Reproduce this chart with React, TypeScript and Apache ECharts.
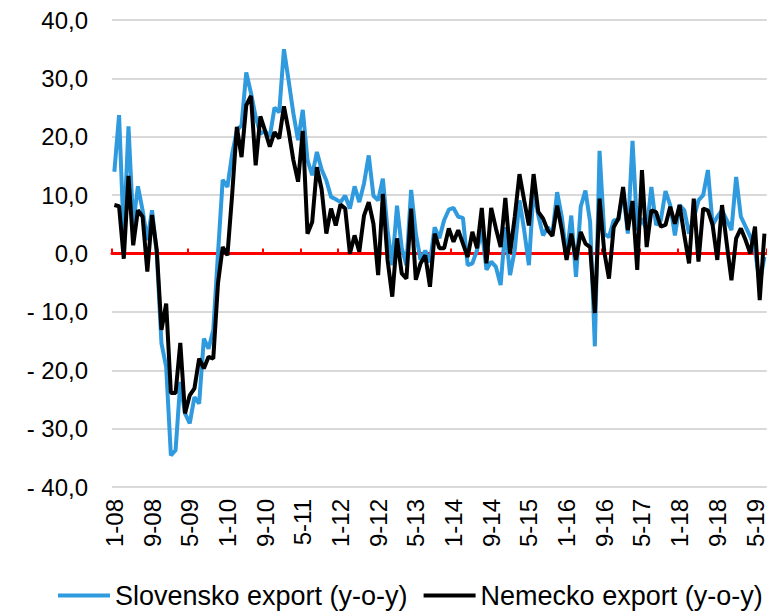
import React, { useEffect, useRef } from "react";
import * as echarts from "echarts";

const categories: string[] = [
  "1-08","2-08","3-08","4-08","5-08","6-08","7-08","8-08","9-08","10-08","11-08","12-08",
  "1-09","2-09","3-09","4-09","5-09","6-09","7-09","8-09","9-09","10-09","11-09","12-09",
  "1-10","2-10","3-10","4-10","5-10","6-10","7-10","8-10","9-10","10-10","11-10","12-10",
  "1-11","2-11","3-11","4-11","5-11","6-11","7-11","8-11","9-11","10-11","11-11","12-11",
  "1-12","2-12","3-12","4-12","5-12","6-12","7-12","8-12","9-12","10-12","11-12","12-12",
  "1-13","2-13","3-13","4-13","5-13","6-13","7-13","8-13","9-13","10-13","11-13","12-13",
  "1-14","2-14","3-14","4-14","5-14","6-14","7-14","8-14","9-14","10-14","11-14","12-14",
  "1-15","2-15","3-15","4-15","5-15","6-15","7-15","8-15","9-15","10-15","11-15","12-15",
  "1-16","2-16","3-16","4-16","5-16","6-16","7-16","8-16","9-16","10-16","11-16","12-16",
  "1-17","2-17","3-17","4-17","5-17","6-17","7-17","8-17","9-17","10-17","11-17","12-17",
  "1-18","2-18","3-18","4-18","5-18","6-18","7-18","8-18","9-18","10-18","11-18","12-18",
  "1-19","2-19","3-19","4-19","5-19","6-19","7-19",
];

const slovenskoExport: number[] = [
  14, 23.7, 3, 21.8, 5, 11.5, 7.4, 2.3, 7.4, 0, -15.4, -19.4,
  -34.6, -33.7, -22, -27.4, -29.1, -24.6, -25.7, -14.6, -16.3, -13.1, 0, 12.6,
  11.4, 17, 21, 22, 31, 27.5, 23.4, 20.5, 21, 20, 25, 24.2,
  35, 29.6, 24, 19.4, 24.6, 16, 13.4, 17.4, 14.4, 12.5, 9.7, 9.3,
  8.8, 9.9, 7.7, 11.5, 8.8, 12, 16.8, 9.9, 9.1, 12.8, 4, -2,
  8.2, 1, -2, 10.9, 3.4, -1.1, 0.5, -1.5, 4.5, 2.6, 5.7, 7.5,
  7.8, 6.3, 6.1, -2, -1.7, 0.6, 4, -2.8, -1.4, -2.3, -5.4, 4.5,
  -3.7, 0.6, 9.1, 4, -2, 11, 6.5, 3.1, 4.5, 3.4, 10.5, 6.2,
  -0.6, 6.5, -4, 8, 10.8, 5.4, -15.9, 17.6, 3.4, 2.8, 5.7, 5.7,
  10.8, 3.4, 19.3, 4, 6, 4, 11.4, 4.9, 5.7, 10.7, 8.3, 3.1,
  8.3, 7.4, 3.4, 6, 9.1, 10, 14.3, 4.9, 6.3, 7.4, 5.7, 4,
  13.1, 6.3, 4.6, 2.9, 0.6, -5.1, -0.6,
];

const nemeckoExport: number[] = [
  8.3, 8.1, -0.9, 13.3, 1.4, 7.4, 6.3, -3.1, 6.6, 0.6, -13.1, -8.6,
  -23.9, -23.9, -15.3, -27.4, -24.3, -23.1, -18, -19.7, -17.7, -18, -5.1, 1.1,
  -0.3, 10, 21.7, 16.5, 25.4, 27, 15.1, 23.5, 21, 18.3, 20.8, 19.7,
  25.2, 21, 16, 12.3, 21, 3.4, 5.4, 14.8, 11, 3.4, 7.7, 4.8,
  8.4, 7.7, 0, 3.1, 0.3, 6.5, 8.8, 5.1, -3.7, 10.2, -1.1, -7.4,
  2.6, -3.4, -4.3, 7.7, -4.5, -1.7, -0.3, -5.7, 3.4, 0.9, 0.9, 4.3,
  2, 4, 1.7, -0.6, 3.7, 0.9, 7.8, -1.7, 7.8, 4.3, 1.1, 9.5,
  0, 6.3, 13.6, 9.1, 4.8, 13.6, 7.1, 6, 4, 3, 8.2, 4,
  -1.1, 3.4, -1.1, 3.7, 1.7, 1.1, -10.2, 9.4, 0.3, -4.3, 4.5, 6,
  11.4, 4, 9, -2.8, 14.3, 1.1, 7.4, 7.1, 4.6, 4.9, 8, 5.1,
  8.3, 3.1, -1.7, 9.4, -1.4, 7.7, 7.4, 4.9, -1.1, 8.3, 1.7, -4.6,
  2.6, 4.3, 2.3, 0, 4.6, -8, 3.4,
];

const seriesNames = ["Slovensko export (y-o-y)", "Nemecko export (y-o-y)"];
const FONT = "'Liberation Sans', Arial, sans-serif";

function fmtY(v: number): string {
  const s = Math.abs(v).toFixed(1).replace(".", ",");
  return v < 0 ? "- " + s : s;
}

export default function App() {
  const ref = useRef<HTMLDivElement>(null);
  useEffect(() => {
    if (!ref.current) return;
    const chart = echarts.init(ref.current, undefined, { renderer: "svg" });
    chart.setOption({
      animation: false,
      backgroundColor: "#ffffff",
      grid: { left: 112, right: 0, top: 20, bottom: 125, containLabel: false },
      legend: {
        top: 582,
        left: 58,
        padding: 0,
        itemGap: 16,
        itemWidth: 52,
        itemHeight: 4,
        icon: "rect",
        textStyle: { fontFamily: FONT, fontSize: 27, color: "#000" },
        data: seriesNames,
      },
      xAxis: [
        {
          type: "category",
          data: categories,
          position: "bottom",
          axisLine: { show: false, onZero: false },
          axisTick: { show: false },
          axisLabel: {
            interval: 7,
            rotate: 90,
            margin: 12,
            fontFamily: FONT,
            fontSize: 24,
            color: "#000",
          },
          splitLine: { show: false },
        },
        {
          type: "category",
          data: categories,
          axisLine: { show: true, onZero: true, lineStyle: { color: "#ff0000", width: 3 } },
          axisTick: { show: true, interval: 7, length: 5, lineStyle: { color: "#ff0000", width: 2 } },
          axisLabel: { show: false },
          splitLine: { show: false },
        },
      ],
      yAxis: {
        type: "value",
        min: -40,
        max: 40,
        interval: 10,
        axisLine: { show: false },
        axisTick: { show: false },
        axisLabel: {
          formatter: fmtY,
          margin: 24,
          fontFamily: FONT,
          fontSize: 24,
          color: "#000",
        },
        splitLine: { lineStyle: { color: "#d9d9d9", width: 2 } },
      },
      series: [
        {
          name: seriesNames[0],
          type: "line",
          data: slovenskoExport,
          showSymbol: false,
          symbol: "none",
          color: "#2f9ade",
          lineStyle: { color: "#2f9ade", width: 4 },
          z: 2,
        },
        {
          name: seriesNames[1],
          type: "line",
          data: nemeckoExport,
          showSymbol: false,
          symbol: "none",
          color: "#000000",
          lineStyle: { color: "#000000", width: 4 },
          z: 3,
        },
      ],
    });
    return () => chart.dispose();
  }, []);
  return (
    <div
      ref={ref}
      style={{ position: "fixed", left: 0, top: 0, width: 767, height: 612, background: "#fff" }}
    />
  );
}
